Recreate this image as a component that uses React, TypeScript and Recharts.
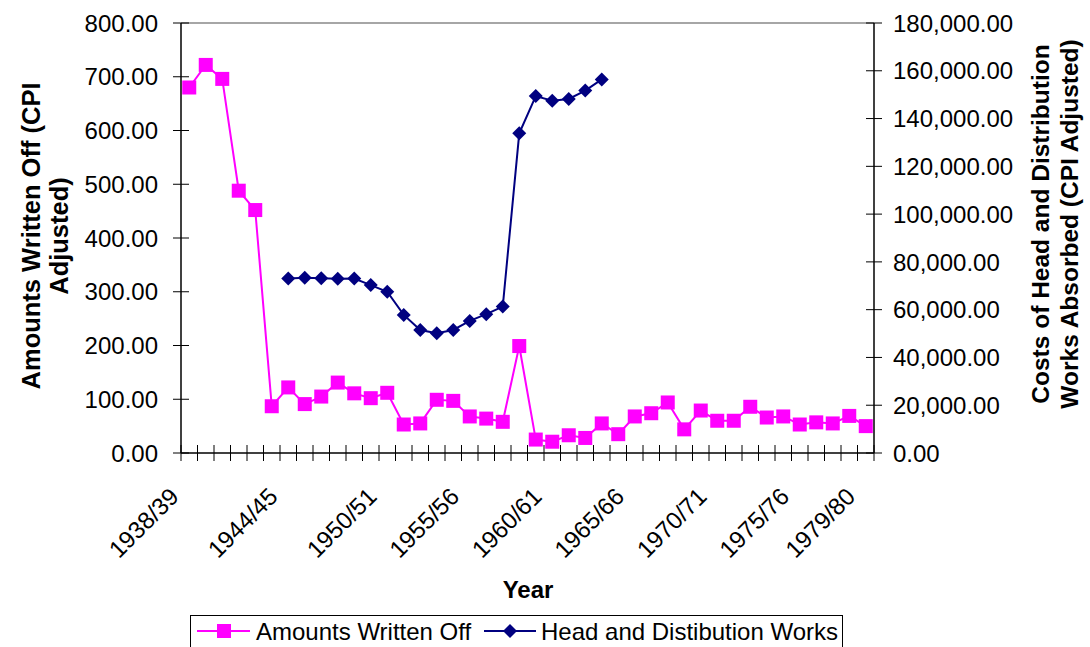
import { Label, Legend, Line, LineChart, ReferenceLine, XAxis, YAxis } from "recharts";

const years = [
  "1938/39", "1939/40", "1940/41", "1941/42", "1942/43", "1943/44", "1944/45",
  "1945/46", "1946/47", "1947/48", "1948/49", "1949/50", "1950/51", "1951/52",
  "1952/53", "1953/54", "1954/55", "1955/56", "1956/57", "1957/58", "1958/59",
  "1959/60", "1960/61", "1961/62", "1962/63", "1963/64", "1964/65", "1965/66",
  "1966/67", "1967/68", "1968/69", "1969/70", "1970/71", "1971/72", "1972/73",
  "1973/74", "1974/75", "1975/76", "1976/77", "1977/78", "1978/79", "1979/80",
];

const shownYears = [
  "1938/39", "1944/45", "1950/51", "1955/56", "1960/61",
  "1965/66", "1970/71", "1975/76", "1979/80",
];

const amountsWrittenOff = [
  680, 722, 696, 488, 452, 87, 122, 91, 105, 131, 111, 102, 112, 53, 55, 99,
  97, 68, 64, 58, 199, 25, 21, 33, 28, 55, 35, 68, 74, 94, 44, 79, 60, 60, 86,
  66, 68, 53, 57, 55, 69, 50,
];

const headWorks = [
  null, null, null, null, null, null, 73000, 73400, 73200, 72900, 73000, 70300,
  67500, 57800, 51500, 50100, 51500, 55300, 58100, 61300, 133800, 149400,
  147500, 148200, 151700, 156400, null, null, null, null, null, null, null,
  null, null, null, null, null, null, null, null, null,
];

const leftTicks = [0, 100, 200, 300, 400, 500, 600, 700, 800];
const rightTicks = [0, 20000, 40000, 60000, 80000, 100000, 120000, 140000, 160000, 180000];

const data = years.map((year, i) => ({
  year,
  written: amountsWrittenOff[i],
  works: headWorks[i],
}));

const PINK = "#FF00FF";
const NAVY = "#000080";
const FONT = "'Liberation Sans', Arial, sans-serif";
const HALF_STEP = 8.25;

function XTick(props: any) {
  const { x, y, payload } = props;
  const idx = payload.index ?? props.index;
  const last = idx === years.length - 1;
  const show = shownYears.includes(payload.value);
  const ax = x - 9;
  const ay = y + 45;
  return (
    <g>
      <line x1={x - HALF_STEP} x2={x - HALF_STEP} y1={y - 8} y2={y + 8} stroke="#000" />
      {last && <line x1={x + HALF_STEP} x2={x + HALF_STEP} y1={y - 8} y2={y + 8} stroke="#000" />}
      {show && (
        <text
          x={ax}
          y={ay}
          textAnchor="end"
          fontSize={24}
          fill="#000"
          transform={`rotate(-45 ${ax} ${ay})`}
        >
          {payload.value}
        </text>
      )}
    </g>
  );
}

function LeftTick(props: any) {
  const { x, y, payload } = props;
  return (
    <g>
      <line x1={x - 8} x2={x + 8} y1={y} y2={y} stroke="#000" />
      <text x={x - 23} y={y} dy="0.36em" textAnchor="end" fontSize={24} fill="#000">
        {payload.value.toFixed(2)}
      </text>
    </g>
  );
}

function RightTick(props: any) {
  const { x, y, payload } = props;
  const label = payload.value.toLocaleString("en-US", { minimumFractionDigits: 2 });
  return (
    <g>
      <line x1={x - 8} x2={x + 8} y1={y} y2={y} stroke="#000" />
      <text x={x + 19} y={y} dy="0.36em" textAnchor="start" fontSize={24} fill="#000">
        {label}
      </text>
    </g>
  );
}

function LeftTitle() {
  return (
    <g fontWeight="bold" fontSize={25.5} fill="#000">
      <text transform="translate(40,236) rotate(-90)" textAnchor="middle">
        Amounts Written Off (CPI
      </text>
      <text transform="translate(68,236) rotate(-90)" textAnchor="middle">
        Adjusted)
      </text>
    </g>
  );
}

function RightTitle() {
  return (
    <g fontWeight="bold" fontSize={24.5} fill="#000">
      <text transform="translate(1049,224) rotate(-90)" textAnchor="middle">
        Costs of Head and Distribution
      </text>
      <text transform="translate(1078,224) rotate(-90)" textAnchor="middle">
        Works Absorbed (CPI Adjusted)
      </text>
    </g>
  );
}

function XTitle() {
  return (
    <text x={528} y={598} textAnchor="middle" fontWeight="bold" fontSize={24} fill="#000">
      Year
    </text>
  );
}

function SquareDot(props: any) {
  const { cx, cy } = props;
  if (cx == null || cy == null) return null;
  return <rect x={cx - 7} y={cy - 7} width={14} height={14} fill={PINK} />;
}

function DiamondDot(props: any) {
  const { cx, cy, value } = props;
  if (cx == null || cy == null || value == null) return null;
  const r = 7;
  return (
    <polygon
      points={`${cx},${cy - r} ${cx + r},${cy} ${cx},${cy + r} ${cx - r},${cy}`}
      fill={NAVY}
    />
  );
}

function LegendBox() {
  return (
    <div
      style={{
        width: 653,
        height: 45,
        border: "1px solid #000",
        boxSizing: "border-box",
        background: "#fff",
      }}
    >
      <svg width={651} height={43} style={{ display: "block", fontFamily: FONT }}>
        <line x1={6} x2={59} y1={15} y2={15} stroke={PINK} strokeWidth={2} />
        <rect x={26} y={8} width={14} height={14} fill={PINK} />
        <text x={65} y={24} fontSize={24} fill="#000">
          Amounts Written Off
        </text>
        <line x1={293} x2={345} y1={15} y2={15} stroke={NAVY} strokeWidth={2} />
        <polygon points="319,8 326,15 319,22 312,15" fill={NAVY} />
        <text x={350} y={24} fontSize={24} fill="#000">
          Head and Distibution Works
        </text>
      </svg>
    </div>
  );
}

export default function App() {
  return (
    <div
      style={{
        position: "absolute",
        left: 0,
        top: 0,
        width: 1090,
        height: 647,
        overflow: "hidden",
        background: "#fff",
        fontFamily: FONT,
      }}
    >
      <LineChart
        width={1090}
        height={647}
        data={data}
        margin={{ top: 23, right: 116, bottom: 94, left: 81 }}
      >
        <XAxis
          dataKey="year"
          interval={0}
          height={100}
          padding={{ left: HALF_STEP, right: HALF_STEP }}
          tickSize={0}
          tickMargin={0}
          tickLine={false}
          axisLine={{ stroke: "#000", strokeWidth: 1.5 }}
          tick={(p: any) => <XTick {...p} />}
        >
          <Label content={() => <XTitle />} />
        </XAxis>
        <YAxis
          yAxisId="left"
          orientation="left"
          width={100}
          domain={[0, 800]}
          ticks={leftTicks}
          interval={0}
          tickSize={0}
          tickMargin={0}
          tickLine={false}
          axisLine={{ stroke: "#000", strokeWidth: 1.5 }}
          tick={(p: any) => <LeftTick {...p} />}
        >
          <Label content={() => <LeftTitle />} />
        </YAxis>
        <YAxis
          yAxisId="right"
          orientation="right"
          width={100}
          domain={[0, 180000]}
          ticks={rightTicks}
          interval={0}
          tickSize={0}
          tickMargin={0}
          tickLine={false}
          axisLine={{ stroke: "#000", strokeWidth: 1.5 }}
          tick={(p: any) => <RightTick {...p} />}
        >
          <Label content={() => <RightTitle />} />
        </YAxis>
        <ReferenceLine yAxisId="left" y={800} stroke="#888" strokeWidth={1.5} />
        <Line
          yAxisId="left"
          type="linear"
          dataKey="written"
          name="Amounts Written Off"
          stroke={PINK}
          strokeWidth={2}
          dot={(p: any) => <SquareDot key={`s${p.index}`} {...p} />}
          activeDot={false}
          isAnimationActive={false}
        />
        <Line
          yAxisId="right"
          type="linear"
          dataKey="works"
          name="Head and Distibution Works"
          stroke={NAVY}
          strokeWidth={2}
          dot={(p: any) => <DiamondDot key={`d${p.index}`} {...p} />}
          activeDot={false}
          isAnimationActive={false}
        />
        <Legend
          layout="horizontal"
          verticalAlign="middle"
          align="center"
          wrapperStyle={{ left: 190, top: 615, width: 653 }}
          content={() => <LegendBox />}
        />
      </LineChart>
    </div>
  );
}
